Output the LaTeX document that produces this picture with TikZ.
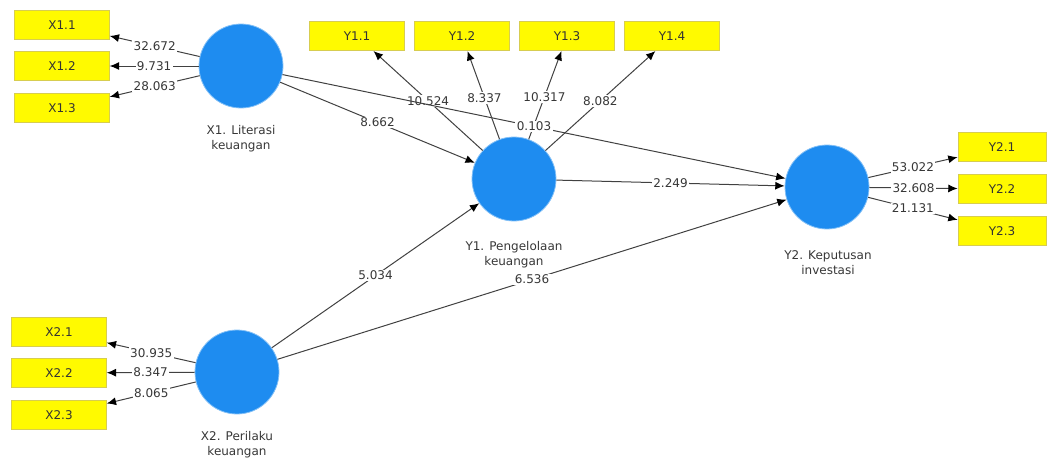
\documentclass[tikz,border=0pt]{standalone}
\usepackage{fontspec}
\setmainfont{DejaVu Sans}
\usetikzlibrary{arrows.meta}
\definecolor{lvblue}{RGB}{30,140,240}
\definecolor{indyellow}{RGB}{255,250,0}
\definecolor{indborder}{RGB}{215,205,80}
\definecolor{linegray}{RGB}{65,65,65}
\definecolor{txtgray}{RGB}{55,55,55}
\begin{document}
\begin{tikzpicture}[x=0.75pt,y=-0.75pt,
 latent/.style={circle,fill=lvblue,draw=lvblue!55,line width=0.6pt,minimum size=63pt,inner sep=0pt},
 ind/.style={rectangle,fill=indyellow,draw=indborder,line width=0.6pt,minimum width=71pt,minimum height=22pt,inner sep=0pt,font=\fontsize{9}{11}\selectfont,text=black!80},
 ind2/.style={ind,minimum width=66pt},
 lvlabel/.style={align=center,font=\fontsize{9}{11.25}\selectfont,text=txtgray},
 conn/.style={draw=linegray,line width=0.75pt,-{Latex[length=7pt,width=6pt,color=black]}},
 val/.style={fill=white,inner sep=1pt,font=\fontsize{9}{10}\selectfont,text=txtgray}]
\useasboundingbox (0,0) rectangle (1047,462);

% latent variables
\node[latent] (X1) at (241,66) {};
\node[latent] (X2) at (237,372) {};
\node[latent] (Y1) at (514,179) {};
\node[latent] (Y2) at (827,187) {};
\node[lvlabel] (X1l) at (241,139) {X1. Literasi\\keuangan};
\node[lvlabel] (X2l) at (237,445) {X2. Perilaku\\keuangan};
\node[lvlabel] (Y1l) at (514,255) {Y1. Pengelolaan\\keuangan};
\node[lvlabel] (Y2l) at (828,263) {Y2. Keputusan\\investasi};

% indicators
\node[ind] (X11) at (62,25) {X1.1};
\node[ind] (X12) at (62,66) {X1.2};
\node[ind] (X13) at (62,108) {X1.3};
\node[ind] (X21) at (59,332) {X2.1};
\node[ind] (X22) at (59,373) {X2.2};
\node[ind] (X23) at (59,415) {X2.3};
\node[ind] (Y11) at (357,36) {Y1.1};
\node[ind] (Y12) at (462,36) {Y1.2};
\node[ind] (Y13) at (567,36) {Y1.3};
\node[ind] (Y14) at (672,36) {Y1.4};
\node[ind2] (Y21) at (1002,147) {Y2.1};
\node[ind2] (Y22) at (1002,189) {Y2.2};
\node[ind2] (Y23) at (1002,231) {Y2.3};

% outer model
\draw[conn] (X1) -- node[val]{32.672} (X11);
\draw[conn] (X1) -- node[val]{9.731} (X12);
\draw[conn] (X1) -- node[val]{28.063} (X13);
\draw[conn] (X2) -- node[val]{30.935} (X21);
\draw[conn] (X2) -- node[val]{8.347} (X22);
\draw[conn] (X2) -- node[val]{8.065} (X23);
\draw[conn] (Y1) -- node[val,pos=0.5]{10.524} (Y11);
\draw[conn] (Y1) -- node[val,pos=0.47]{8.337} (Y12);
\draw[conn] (Y1) -- node[val,pos=0.48]{10.317} (Y13);
\draw[conn] (Y1) -- node[val,pos=0.5]{8.082} (Y14);
\draw[conn] (Y2) -- node[val]{53.022} (Y21);
\draw[conn] (Y2) -- node[val]{32.608} (Y22);
\draw[conn] (Y2) -- node[val]{21.131} (Y23);

% inner model
\draw[conn] (X1) -- node[val]{8.662} (Y1);
\draw[conn] (X1) -- node[val]{0.103} (Y2);
\draw[conn] (Y1) -- node[val]{2.249} (Y2);
\draw[conn] (X2) -- node[val]{5.034} (Y1);
\draw[conn] (X2) -- node[val]{6.536} (Y2);
\end{tikzpicture}
\end{document}
